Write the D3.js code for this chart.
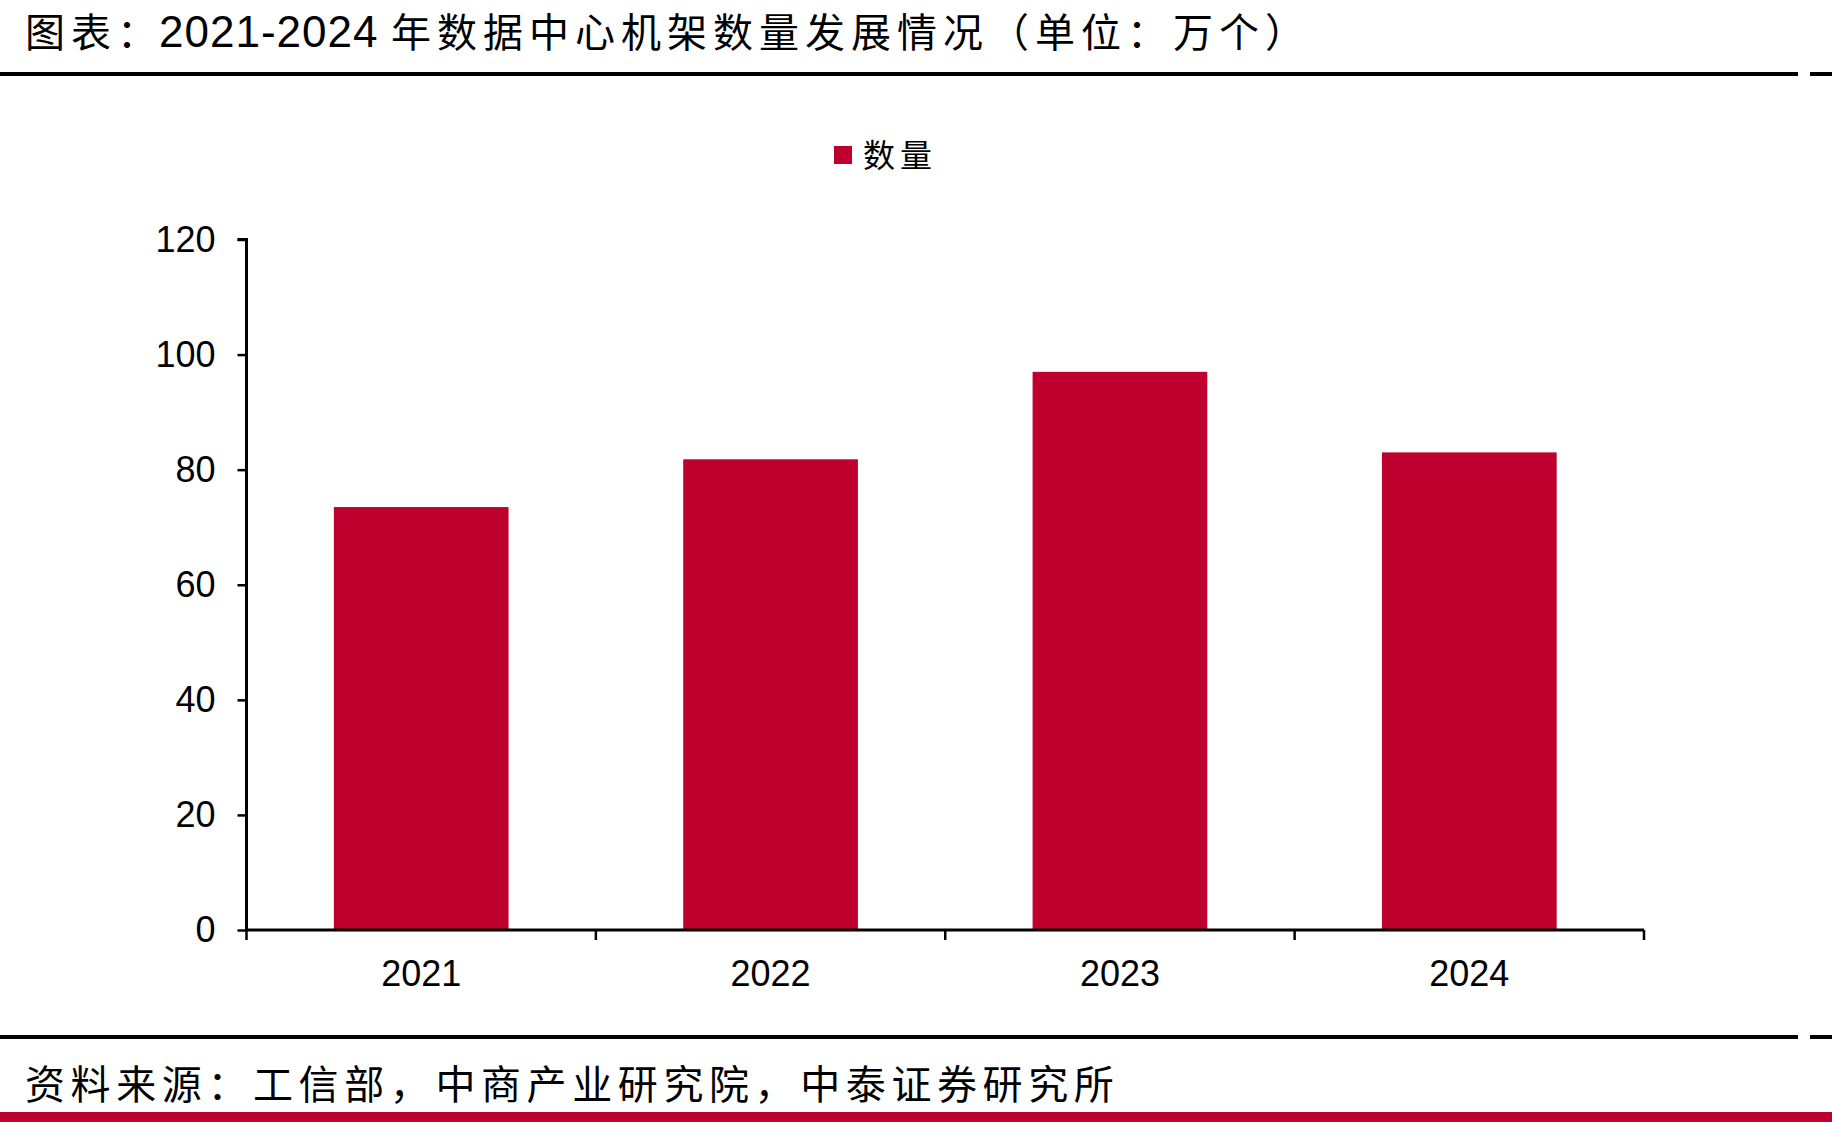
<!DOCTYPE html>
<html>
<head>
<meta charset="utf-8">
<script src="https://cdn.jsdelivr.net/npm/d3@7"></script>
<style>
  body { margin: 0; background: #fff; }
  svg { display: block; }
</style>
</head>
<body>
<script>
// chart data
var years = ['2021', '2022', '2023', '2024'];
var counts = [73.5, 81.8, 97.0, 83.0];
var yTicks = [0, 20, 40, 60, 80, 100, 120];
var seriesName = '数量';
var titleParts = ['图表：', '2021-2024', '年数据中心机架数量发展情况（单位：万个）'];
var sourceText = '资料来源：工信部，中商产业研究院，中泰证券研究所';

var width = 1832, height = 1122;
var red = '#bf002f';
var cjk = '"Noto Sans CJK SC", "Noto Sans", sans-serif';
var latin = '"Liberation Sans", Arial, sans-serif';

var svg = d3.select('body').append('svg')
  .attr('width', width)
  .attr('height', height);

// title
var title = svg.append('text')
  .attr('y', 47)
  .attr('font-size', 40)
  .attr('fill', '#000');
title.append('tspan').attr('x', 25).attr('font-family', cjk).attr('letter-spacing', 6).text(titleParts[0]);
title.append('tspan').attr('x', 159).attr('font-family', latin).attr('font-size', 44).attr('letter-spacing', 1).text(titleParts[1]);
title.append('tspan').attr('x', 391).attr('font-family', cjk).attr('letter-spacing', 6).text(titleParts[2]);

// header / footer rules
function rule(y) {
  svg.append('rect').attr('x', 0).attr('y', y - 2).attr('width', 1798).attr('height', 4).attr('fill', '#000');
  svg.append('rect').attr('x', 1810).attr('y', y - 2).attr('width', 22).attr('height', 4).attr('fill', '#000');
}
rule(74);
rule(1037);

// bottom red band
svg.append('rect').attr('x', 0).attr('y', 1112).attr('width', width).attr('height', 10).attr('fill', red);

// source
svg.append('text')
  .attr('x', 25).attr('y', 1099)
  .attr('font-family', cjk)
  .attr('font-size', 40)
  .attr('letter-spacing', 5.6)
  .text(sourceText);

// legend
svg.append('rect').attr('x', 834).attr('y', 146).attr('width', 18).attr('height', 18).attr('fill', red);
svg.append('text')
  .attr('x', 863).attr('y', 167)
  .attr('font-family', cjk)
  .attr('font-size', 32)
  .attr('letter-spacing', 5)
  .text(seriesName);

// scales
var x = d3.scaleBand()
  .domain(years)
  .range([246.5, 1644])
  .paddingInner(0.5)
  .paddingOuter(0.25);

var y = d3.scaleLinear()
  .domain([0, 120])
  .range([930, 239.5]);

// bars
svg.selectAll('rect.bar')
  .data(counts)
  .enter()
  .append('rect')
  .attr('class', 'bar')
  .attr('x', function(d, i) { return x(years[i]); })
  .attr('y', function(d) { return y(d); })
  .attr('width', x.bandwidth())
  .attr('height', function(d) { return y(0) - y(d); })
  .attr('fill', red);

// y axis
var yAxis = svg.append('g')
  .attr('transform', 'translate(246.5,0)')
  .call(d3.axisLeft(y).tickValues(yTicks).tickSize(9).tickPadding(22));
yAxis.select('.domain').attr('stroke-width', 3).attr('d', 'M-9,' + y(120) + 'H0V' + y(0));
yAxis.selectAll('.tick line').attr('stroke-width', 2.5);
yAxis.selectAll('text')
  .attr('font-family', latin)
  .attr('font-size', 36)
  .attr('fill', '#000');

// x axis: ticks on category boundaries
var step = x.step();
var bounds = d3.range(years.length + 1).map(function(i) { return 246.5 + i * step; });
var xAxis = svg.append('g');
xAxis.append('line')
  .attr('x1', 246.5).attr('x2', 1644)
  .attr('y1', y(0)).attr('y2', y(0))
  .attr('stroke', '#000').attr('stroke-width', 3);
xAxis.selectAll('line.tick')
  .data(bounds)
  .enter()
  .append('line')
  .attr('class', 'tick')
  .attr('x1', function(d) { return d; }).attr('x2', function(d) { return d; })
  .attr('y1', y(0)).attr('y2', y(0) + 10)
  .attr('stroke', '#000').attr('stroke-width', 2.5);
xAxis.selectAll('text')
  .data(years)
  .enter()
  .append('text')
  .attr('x', function(d) { return x(d) + x.bandwidth() / 2; })
  .attr('y', 986)
  .attr('text-anchor', 'middle')
  .attr('font-family', latin)
  .attr('font-size', 36)
  .text(function(d) { return d; });
</script>
</body>
</html>
